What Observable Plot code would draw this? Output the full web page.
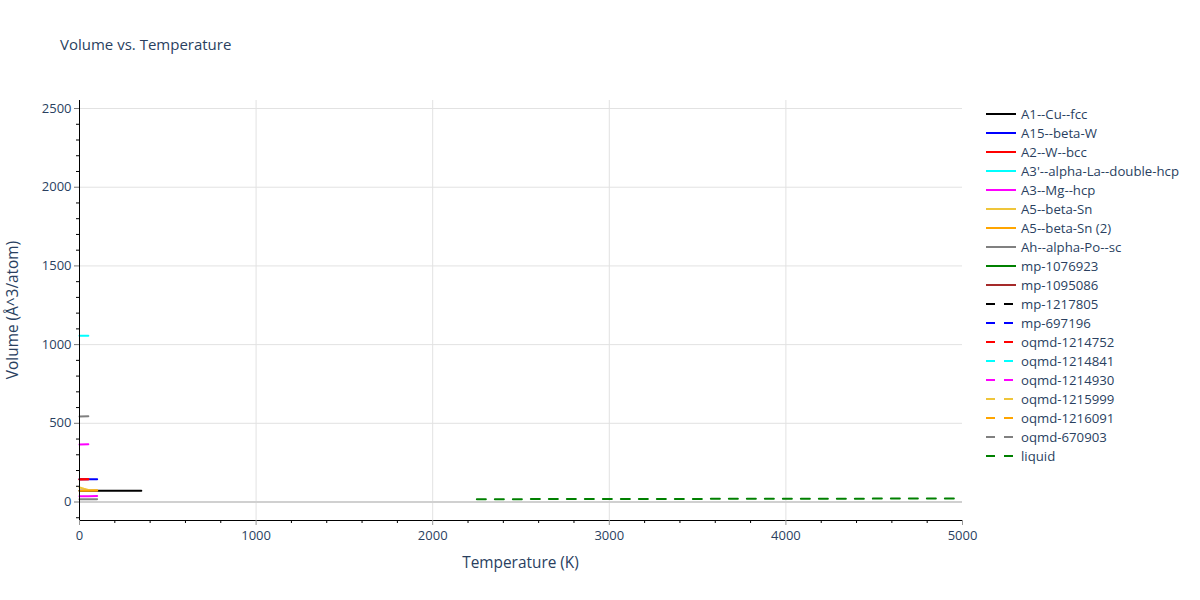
<!DOCTYPE html>
<html>
<head>
<meta charset="utf-8">
<script src="https://cdn.jsdelivr.net/npm/d3@7"></script>
<script src="https://cdn.jsdelivr.net/npm/@observablehq/plot@0.6"></script>
<style>
  html, body { margin: 0; padding: 0; background: white; }
  #wrap { position: relative; width: 1200px; height: 600px; font-family: "Open Sans", sans-serif; color: #2a3f5f; }
  #title { position: absolute; left: 60px; top: 34px; font-size: 15px; }
  #xlabel { position: absolute; left: 79px; width: 883px; top: 552px; text-align: center; font-size: 15.4px; }
  #ylabel { position: absolute; left: 12px; top: 310px; font-size: 15.4px; transform: translate(-50%, -50%) rotate(-90deg); white-space: nowrap; }
  #legend { position: absolute; left: 986px; top: 104px; font-size: 13.2px; }
  .row { height: 19px; display: flex; align-items: center; }
  .row svg { margin-right: 5px; }
  #chart { position: absolute; left: 0; top: 0; }
</style>
</head>
<body>
<div id="wrap">
  <div id="chart"></div>
  <div id="title">Volume vs. Temperature</div>
  <div id="xlabel">Temperature (K)</div>
  <div id="ylabel">Volume (Å^3/atom)</div>
  <div id="legend"></div>
</div>
<script>
// ---- data ----
const seriesNames = ["A1--Cu--fcc","A15--beta-W","A2--W--bcc","A3'--alpha-La--double-hcp","A3--Mg--hcp","A5--beta-Sn","A5--beta-Sn (2)","Ah--alpha-Po--sc","mp-1076923","mp-1095086","mp-1217805","mp-697196","oqmd-1214752","oqmd-1214841","oqmd-1214930","oqmd-1215999","oqmd-1216091","oqmd-670903","liquid"];
const seriesColors = ["black","blue","red","cyan","magenta","#efc53a","orange","gray","green","brown","black","blue","red","cyan","magenta","#efc53a","orange","gray","green"];
const seriesDashed = [false,false,false,false,false,false,false,false,false,false,true,true,true,true,true,true,true,true,true];

const A1_T = [0, 50, 100, 150, 200, 250, 300, 350];
const A1_V = [70.8, 70.8, 70.9, 71.0, 71.1, 71.3, 71.5, 71.7];
const A15_T = [0, 50, 100];
const A15_V = [144.5, 144.7, 145.0];
const A2_T = [0, 25, 50];
const A2_V = [144.0, 144.1, 144.3];
const A3Mg_T = [0, 50, 100];
const A3Mg_V = [37.0, 37.2, 37.5];
const A5_T = [0, 25, 50, 100];
const A5_V = [92, 84, 77, 74];
const A5b_T = [0, 50, 100];
const A5b_V = [72.0, 72.3, 72.6];
const Ah_T = [0, 50, 100];
const Ah_V = [18.0, 18.1, 18.3];
const oq752_T = [0, 50];
const oq752_V = [143.5, 143.8];
const oq841_T = [0, 50];
const oq841_V = [1056, 1057];
const oq930_T = [0, 50];
const oq930_V = [366, 366.5];
const oq903_T = [0, 50];
const oq903_V = [544, 544.5];
const liq_T = [2250, 2500, 2750, 3000, 3250, 3500, 3750, 4000, 4250, 4500, 4750, 5000];
const liq_V = [18.0, 18.3, 18.6, 19.0, 19.4, 19.8, 20.2, 20.6, 21.1, 21.5, 22.0, 22.4];

const seriesData = {
  "A1--Cu--fcc": [A1_T, A1_V],
  "A15--beta-W": [A15_T, A15_V],
  "A2--W--bcc": [A2_T, A2_V],
  "A3--Mg--hcp": [A3Mg_T, A3Mg_V],
  "A5--beta-Sn": [A5_T, A5_V],
  "A5--beta-Sn (2)": [A5b_T, A5b_V],
  "Ah--alpha-Po--sc": [Ah_T, Ah_V],
  "oqmd-1214752": [oq752_T, oq752_V],
  "oqmd-1214841": [oq841_T, oq841_V],
  "oqmd-1214930": [oq930_T, oq930_V],
  "oqmd-670903": [oq903_T, oq903_V],
  "liquid": [liq_T, liq_V]
};

const xDomain = [0, 5000];
const yDomain = [-117.5, 2551];
const xMajor = [0, 1000, 2000, 3000, 4000, 5000];
const xGrid = [1000, 2000, 3000, 4000];
const xMinor = d3.range(200, 5000, 200).filter(v => v % 1000 !== 0);
const yMajor = [0, 500, 1000, 1500, 2000, 2500];
const yGrid = [500, 1000, 1500, 2000, 2500];
const yMinor = d3.range(-100, 2600, 100).filter(v => v % 500 !== 0);

// ---- marks ----
const lineMarks = [];
seriesNames.forEach((name, i) => {
  const d = seriesData[name];
  if (!d) return;
  const rows = d[0].map((t, j) => ({T: t, V: d[1][j]}));
  lineMarks.push(Plot.line(rows, {
    x: "T", y: "V", stroke: seriesColors[i], strokeWidth: 2,
    strokeDasharray: seriesDashed[i] ? "9,9" : null
  }));
});

const fmt = d3.format("d");
const chart = Plot.plot({
  width: 1200, height: 600,
  marginLeft: 79, marginRight: 238, marginTop: 100, marginBottom: 80,
  x: {domain: xDomain, axis: null},
  y: {domain: yDomain, axis: null},
  style: {fontFamily: "Open Sans, sans-serif", fontSize: "13px", color: "#2a3f5f", background: "white"},
  marks: [
    Plot.ruleY(yGrid, {stroke: "#e2e2e2", strokeWidth: 1}),
    Plot.ruleX(xGrid, {stroke: "#e2e2e2", strokeWidth: 1}),
    Plot.ruleY([0], {stroke: "#d0d0d0", strokeWidth: 2}),
    ...lineMarks,
    Plot.ruleX([xDomain[0]], {stroke: "black", strokeWidth: 1}),
    Plot.ruleY([yDomain[0]], {stroke: "black", strokeWidth: 1}),
    Plot.axisY({ticks: yMajor, tickSize: 5, tickPadding: 3, stroke: "#777", fill: "#2a3f5f", label: null, fontSize: 13, tickFormat: fmt}),
    Plot.axisY({ticks: yMinor, tickSize: 3, stroke: "black", tickFormat: () => "", label: null}),
    Plot.axisX({ticks: xMajor, tickSize: 5, tickPadding: 5, stroke: "#999", fill: "#2a3f5f", label: null, fontSize: 13, tickFormat: fmt}),
    Plot.axisX({ticks: xMinor, tickSize: 3, stroke: "black", tickFormat: () => "", label: null})
  ]
});
document.getElementById("chart").appendChild(chart);

// ---- legend ----
const legend = document.getElementById("legend");
seriesNames.forEach((name, i) => {
  const row = document.createElement("div");
  row.className = "row";
  const dash = seriesDashed[i] ? ' stroke-dasharray="9,9"' : "";
  row.innerHTML = `<svg width="30" height="6"><line x1="0" y1="3" x2="30" y2="3" stroke="${seriesColors[i]}" stroke-width="2"${dash}/></svg><span>${name}</span>`;
  legend.appendChild(row);
});
</script>
</body>
</html>
